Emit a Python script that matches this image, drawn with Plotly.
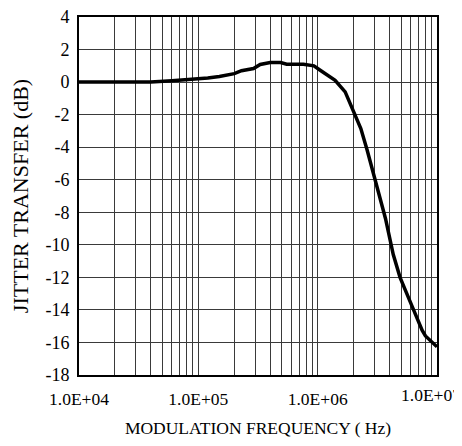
import plotly.graph_objects as go

freq_hz = [1e4, 2e4, 3e4, 4e4, 6e4, 9e4, 1.2e5, 1.5e5, 2e5, 2.3e5, 2.9e5, 3.3e5,
           4.0e5, 4.9e5, 5.5e5, 7.6e5, 9.3e5, 1.05e6, 1.2e6, 1.4e6, 1.7e6, 2.0e6,
           2.3e6, 2.6e6, 2.95e6, 3.25e6, 3.7e6, 4.3e6, 4.9e6, 6.2e6, 7.5e6, 8.0e6, 1e7]
transfer_db = [0, 0, 0, 0, 0.08, 0.15, 0.25, 0.35, 0.52, 0.7, 0.83, 1.08,
               1.2, 1.2, 1.1, 1.1, 1.0, 0.73, 0.45, 0.11, -0.6, -1.84,
               -2.86, -4.19, -5.62, -6.85, -8.38, -10.6, -12.0, -13.8, -15.25, -15.6, -16.27]

x_tickvals = [1e4, 1e5, 1e6]
x_ticktext = ["1.0E+04", "1.0E+05", "1.0E+06"]
x_end_tickvals = [1e7]
x_end_ticktext = ["1.0E+07"]
y_tickvals = list(range(-18, 5, 2))
y_ticktext = [str(v) for v in y_tickvals]
minor_vals = [m * 10**e for e in (4, 5, 6) for m in range(2, 10)]

FONT = "Liberation Serif, Times New Roman, serif"
GRID = "#3a3a3a"

# the page body adds an 8px offset, so the figure is sized to fit the window without scrollbars
fig = go.Figure()
fig.add_trace(go.Scatter(x=freq_hz, y=transfer_db, mode="lines",
                         line=dict(color="black", width=3.5), showlegend=False))
# same data on an overlaid axis that carries only the last (edge) tick label
fig.add_trace(go.Scatter(x=freq_hz, y=transfer_db, mode="lines", xaxis="x2",
                         line=dict(color="rgba(0,0,0,0)", width=0),
                         showlegend=False, hoverinfo="skip"))

fig.update_layout(
    width=454, height=430,
    margin=dict(l=70.5, r=25.3, t=8.7, b=63),
    paper_bgcolor="white", plot_bgcolor="white",
    font=dict(family=FONT, size=18, color="black"),
    xaxis=dict(
        type="log", range=[4, 7], automargin=False,
        tickvals=x_tickvals + x_end_tickvals, ticktext=x_ticktext + [""],
        ticklabeloverflow="allow", tickfont=dict(size=17.5),
        showgrid=True, gridcolor=GRID, gridwidth=1,
        minor=dict(showgrid=True, gridcolor=GRID, gridwidth=1, tickvals=minor_vals),
        showline=True, linecolor="black", linewidth=2, mirror=True,
        ticks="", ticklabelstandoff=7,
        title=dict(text="MODULATION FREQUENCY ( Hz)", standoff=21, font=dict(size=17.5)),
        zeroline=False,
    ),
    xaxis2=dict(
        type="log", range=[4, 7], overlaying="x", side="bottom", anchor="y",
        automargin=False, tickvals=x_end_tickvals, ticktext=x_end_ticktext,
        ticklabeloverflow="allow", tickfont=dict(size=17.5),
        ticklabelshift=-6, ticklabelstandoff=7, ticks="",
        showgrid=False, showline=False, zeroline=False,
    ),
    yaxis=dict(
        range=[-18, 4], automargin=False,
        tickvals=y_tickvals, ticktext=y_ticktext, ticklabeloverflow="allow",
        showgrid=True, gridcolor=GRID, gridwidth=1,
        showline=True, linecolor="black", linewidth=2, mirror=True,
        ticks="", ticklabelstandoff=4,
        title=dict(text="JITTER TRANSFER (dB)", standoff=14),
        zeroline=False,
    ),
)

fig.write_html("out.html")
